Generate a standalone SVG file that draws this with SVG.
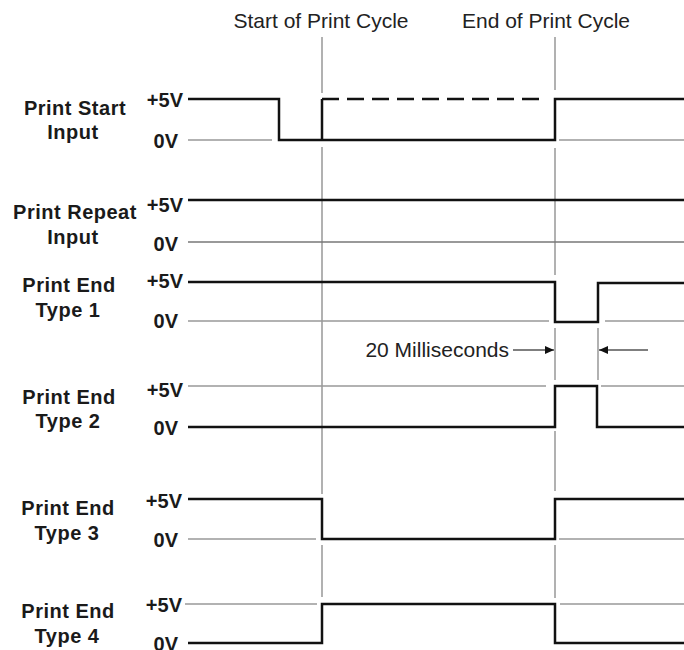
<svg xmlns="http://www.w3.org/2000/svg" width="684" height="650" viewBox="0 0 684 650">
<style>
.name{font-family:"Liberation Sans",Arial,sans-serif;font-weight:bold;font-size:20px;letter-spacing:0.5px;fill:#1a1a1a;text-anchor:middle}
.volt{font-family:"Liberation Sans",Arial,sans-serif;font-weight:bold;font-size:20px;fill:#1a1a1a;text-anchor:end}
.head{font-family:"Liberation Sans",Arial,sans-serif;font-size:21px;fill:#222;text-anchor:middle}
.sig{fill:none;stroke:#111;stroke-width:2.5;stroke-linejoin:miter}
.ref{fill:none;stroke:#999;stroke-width:1.6}
.guide{fill:none;stroke:#888;stroke-width:1.3}
.dim{fill:none;stroke:#555;stroke-width:1.3}
</style>
<defs>
<marker id="ah" markerWidth="10" markerHeight="8" refX="9" refY="4" orient="auto" markerUnits="userSpaceOnUse">
<path d="M0,0 L9,4 L0,8 Z" fill="#111"/>
</marker>
</defs>
<rect width="684" height="650" fill="#fff"/>
<g id="headings">
<text class="head" x="321" y="28">Start of Print Cycle</text>
<text class="head" x="546" y="28">End of Print Cycle</text>
</g>
<g id="connectors">
<path class="guide" d="M322,37 V93 M322,147 V494 M322,545 V597"/>
<path class="guide" d="M555,37 V90 M555,148 V275 M555,328 V380 M555,431 V491 M555,545 V598"/>
<path class="guide" d="M598,328 V380"/>
<path class="dim" d="M513,350 H554" marker-end="url(#ah)"/>
<path class="dim" d="M648,350 H599" marker-end="url(#ah)"/>
<text class="head" x="509" y="357" style="text-anchor:end">20 Milliseconds</text>
</g>
<g id="print-start">
<text class="name" x="75" y="115">Print Start</text>
<text class="name" x="73" y="139">Input</text>
<text class="volt" x="183" y="107">+5V</text>
<text class="volt" x="178" y="148">0V</text>
<path class="ref" d="M188,140 H272 M559,140 H684"/>
<path class="sig" d="M188,99 H279 V140 H555 V99 H684 M322,140 V99"/>
<path class="sig" d="M322,99 H547" stroke-dasharray="17 8"/>
</g>
<g id="print-repeat">
<text class="name" x="75" y="219">Print Repeat</text>
<text class="name" x="73" y="244">Input</text>
<text class="volt" x="183" y="212">+5V</text>
<text class="volt" x="178" y="251">0V</text>
<path class="ref" d="M188,242 H684" stroke="#666" style="stroke:#777;stroke-width:1.4"/>
<path class="sig" d="M188,200 H684"/>
</g>
<g id="print-end-1">
<text class="name" x="69" y="292">Print End</text>
<text class="name" x="68" y="317">Type 1</text>
<text class="volt" x="183" y="288">+5V</text>
<text class="volt" x="178" y="328">0V</text>
<path class="ref" d="M188,321 H549 M605,321 H684"/>
<path class="sig" d="M188,282 H555 V322 H598 V283 H684"/>
</g>
<g id="print-end-2">
<text class="name" x="69" y="404">Print End</text>
<text class="name" x="68" y="428">Type 2</text>
<text class="volt" x="183" y="397">+5V</text>
<text class="volt" x="178" y="435">0V</text>
<path class="ref" d="M188,386 H546 M601,386 H684"/>
<path class="sig" d="M188,427 H555 V386 H597 V427 H684"/>
</g>
<g id="print-end-3">
<text class="name" x="68" y="515">Print End</text>
<text class="name" x="67" y="540">Type 3</text>
<text class="volt" x="182" y="508">+5V</text>
<text class="volt" x="178" y="547">0V</text>
<path class="ref" d="M188,539 H316 M559,539 H684"/>
<path class="sig" d="M188,499 H322 V539 H555 V499 H684"/>
</g>
<g id="print-end-4">
<text class="name" x="68" y="618">Print End</text>
<text class="name" x="67" y="643">Type 4</text>
<text class="volt" x="182" y="612">+5V</text>
<text class="volt" x="178" y="651">0V</text>
<path class="ref" d="M185,604 H317 M560,604 H684"/>
<path class="sig" d="M188,643 H322 V604 H555 V643 H684"/>
</g>
</svg>
